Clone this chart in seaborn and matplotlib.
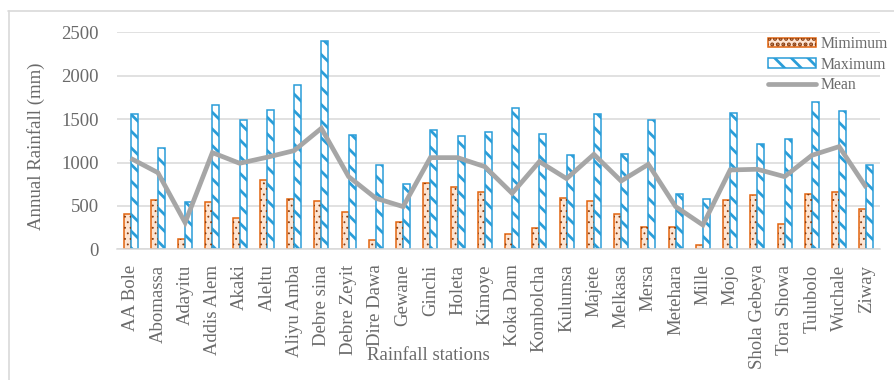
import matplotlib
matplotlib.use("Agg")
import matplotlib.pyplot as plt
from matplotlib.patches import Rectangle, Patch
from matplotlib.lines import Line2D
import seaborn as sns
import pandas as pd

stations = ["AA Bole", "Abomassa", "Adayitu", "Addis Alem", "Akaki", "Aleltu",
            "Aliyu Amba", "Debre sina", "Debre Zeyit", "Dire Dawa", "Gewane",
            "Ginchi", "Holeta", "Kimoye", "Koka Dam", "Kombolcha", "Kulumsa",
            "Majete", "Melkasa", "Mersa", "Metehara", "Mille", "Mojo",
            "Shola Gebeya", "Tora Showa", "Tulubolo", "Wuchale", "Ziway"]
minimum = [407, 568, 115, 549, 365, 795, 584, 561, 430, 108, 311, 764, 722, 657,
           173, 250, 588, 557, 403, 253, 261, 46, 572, 622, 296, 634, 660, 461]
maximum = [1559, 1163, 549, 1659, 1490, 1601, 1897, 2396, 1313, 975, 749, 1371,
           1309, 1356, 1632, 1332, 1091, 1563, 1102, 1490, 641, 584, 1567, 1213,
           1267, 1693, 1590, 968]
mean = [1048, 883, 307, 1114, 991, 1060, 1137, 1394, 837, 588, 492, 1056, 1056,
        952, 645, 1010, 814, 1094, 787, 979, 492, 280, 914, 922, 837, 1083, 1183, 710]
yticks = [0, 500, 1000, 1500, 2000, 2500]

ORANGE = "#e2640e"
PEACH = "#fde4d2"
DOT = "#8a3b0c"
BLUE = "#2a9dd8"
GREY_LINE = "#a6a6a6"
TEXT = "#6a6a6a"
GRID = "#d9d9d9"

sns.set_theme(style="white")
plt.rcParams["font.family"] = ["Liberation Serif", "DejaVu Serif"]
plt.rcParams["hatch.linewidth"] = 2.0

df = pd.DataFrame({
    "station": stations * 2,
    "kind": ["Mimimum"] * len(stations) + ["Maximum"] * len(stations),
    "value": minimum + maximum,
})

W, H = 894, 380
fig = plt.figure(figsize=(W / 100, H / 100), dpi=100)
ax = fig.add_axes([117 / W, 1 - 249.3 / H, (880 - 117) / W, (249.3 - 32.3) / H])

sns.barplot(data=df, x="station", y="value", hue="kind",
            hue_order=["Mimimum", "Maximum"], order=stations,
            palette={"Mimimum": PEACH, "Maximum": "white"},
            width=0.52, legend=False, ax=ax, zorder=2)

# minimum bars: peach fill, orange outline, dark dotted overlay
for bar in ax.containers[0]:
    bar.set_facecolor(PEACH)
    bar.set_edgecolor(ORANGE)
    bar.set_linewidth(1.1)
    dots = Rectangle(bar.get_xy(), bar.get_width(), bar.get_height(),
                     facecolor="none", edgecolor=DOT, linewidth=0,
                     hatch="...", zorder=2.1)
    if hasattr(dots, "set_hatch_linewidth"):
        dots.set_hatch_linewidth(0.6)
    ax.add_patch(dots)

# maximum bars: white with wide blue diagonal stripes
for bar in ax.containers[1]:
    bar.set_facecolor("white")
    bar.set_edgecolor(BLUE)
    bar.set_linewidth(1.1)
    bar.set_hatch("\\\\")
    if hasattr(bar, "set_hatch_linewidth"):
        bar.set_hatch_linewidth(2.0)

sns.pointplot(x=stations, y=mean, order=stations, color=GREY_LINE,
              markers="", linewidth=3.4, errorbar=None, ax=ax, zorder=3)
for ln in ax.lines:
    ln.set_solid_capstyle("butt")
    ln.set_solid_joinstyle("miter")

ax.set_xlim(-0.5, len(stations) - 0.5)
ax.set_ylim(0, 2500)
ax.set_yticks(yticks)
ax.yaxis.grid(True, color=GRID, linewidth=1.1)
ax.set_axisbelow(True)
for side in ["top", "right", "left"]:
    ax.spines[side].set_visible(False)
ax.spines["bottom"].set_color(GRID)
ax.spines["bottom"].set_linewidth(1.1)

ax.tick_params(axis="both", length=0, labelsize=13.5, labelcolor=TEXT)
ax.tick_params(axis="y", pad=13)
ax.tick_params(axis="x", labelrotation=90, pad=11)

ax.set_ylabel("Annual Rainfall (mm)", fontsize=13.5, color=TEXT)
ax.yaxis.set_label_coords(-0.0944, 0.476)
ax.set_xlabel("Rainfall stations", fontsize=13.5, color=TEXT, va="center")
ax.xaxis.set_label_coords(0.4076, -0.49)

# legend
min_face = Patch(facecolor=PEACH, edgecolor=ORANGE, linewidth=1.1)
min_dots = Patch(facecolor="none", edgecolor=DOT, linewidth=0, hatch="...")
if hasattr(min_dots, "set_hatch_linewidth"):
    min_dots.set_hatch_linewidth(0.6)
max_patch = Patch(facecolor="white", edgecolor=BLUE, linewidth=1.1, hatch="\\\\")
if hasattr(max_patch, "set_hatch_linewidth"):
    max_patch.set_hatch_linewidth(2.0)
mean_line = Line2D([], [], color=GREY_LINE, linewidth=3.4)
leg = fig.legend([(min_face, min_dots), max_patch, mean_line],
                 ["Mimimum", "Maximum", "Mean"],
                 loc="upper left", bbox_to_anchor=(768 / W, 1 - 36 / H),
                 frameon=False, fontsize=11.3, handlelength=3.05,
                 handleheight=0.55, handletextpad=0.3, labelspacing=0.3,
                 borderpad=0, borderaxespad=0)
for t in leg.get_texts():
    t.set_color(TEXT)

# chart frame
fig.add_artist(Line2D([8 / W, 1], [1 - 11 / H] * 2, transform=fig.transFigure,
                      color=GRID, linewidth=1.2))
fig.add_artist(Line2D([8.5 / W] * 2, [0, 1 - 11 / H], transform=fig.transFigure,
                      color=GRID, linewidth=1.2))

fig.savefig("out.png", dpi=100)
